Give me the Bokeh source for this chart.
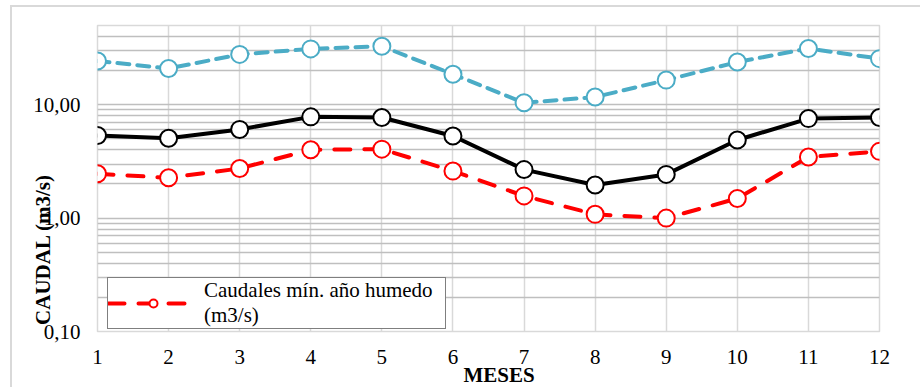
from bokeh.plotting import figure
from bokeh.models import FixedTicker, Legend, LegendItem, Range1d
from bokeh.embed import file_html
from bokeh.resources import INLINE

# Monthly flows (m3/s)
meses = list(range(1, 13))
caudal_max = [24.3, 20.9, 27.8, 31.1, 32.8, 18.6, 10.4, 11.7, 16.5, 23.8, 31.3, 25.5]
caudal_medio = [5.35, 5.06, 6.06, 7.82, 7.71, 5.30, 2.68, 1.96, 2.43, 4.89, 7.55, 7.71]
caudal_min_humedo = [2.46, 2.27, 2.74, 4.01, 4.06, 2.60, 1.57, 1.08, 1.00, 1.49, 3.46, 3.88]

y_ticks = [0.1, 1, 10]
y_tick_labels = ["0,10", "1,00", "10,00"]
y_minor = [0.2, 0.3, 0.4, 0.5, 0.6, 0.7, 0.8, 0.9,
           2, 3, 4, 5, 6, 7, 8, 9,
           20, 30, 40, 50]

SERIF = "Liberation Serif"
FS = "21px"
GRID_H = "#bfbfbf"
GRID_V = "#d9d9d9"

p = figure(
    width=910, height=382,
    x_range=Range1d(1, 12), y_range=Range1d(0.1, 50),
    y_axis_type="log",
    output_backend="svg", toolbar_location=None,
    min_border_left=85, min_border_right=43,
    min_border_top=18, min_border_bottom=52,
    background_fill_color="white", border_fill_color="white",
)
# light chart-area border on the left and top
p.styles = {
    "margin-left": "10px", "margin-top": "5px",
    "border-left": "2px solid #d9d9d9", "border-top": "2px solid #d9d9d9",
}
p.outline_line_color = GRID_V
p.outline_line_width = 1.5

# axes
p.xaxis.ticker = FixedTicker(ticks=meses)
p.yaxis.ticker = FixedTicker(ticks=y_ticks, minor_ticks=y_minor)
p.yaxis.major_label_overrides = {t: l for t, l in zip(y_ticks, y_tick_labels)}
for ax in (p.xaxis[0], p.yaxis[0]):
    ax.axis_line_color = None
    ax.major_tick_line_color = None
    ax.minor_tick_line_color = None
    ax.major_label_text_font = SERIF
    ax.major_label_text_font_size = FS
    ax.major_label_text_color = "#000000"
    ax.axis_label_text_font = SERIF
    ax.axis_label_text_font_style = "bold"
    ax.axis_label_text_font_size = FS
    ax.axis_label_text_color = "#000000"
p.xaxis.major_label_standoff = 12
p.yaxis.major_label_standoff = 11

p.xaxis.axis_label = "\u00a0" * 4 + "MESES"
p.xaxis.axis_label_standoff = -4
p.yaxis.axis_label = "CAUDAL (m3/s)" + "\u00a0" * 27
p.yaxis.axis_label_standoff = -25

# grid
p.xgrid.grid_line_color = GRID_V
p.xgrid.grid_line_width = 1.5
p.ygrid.grid_line_color = GRID_H
p.ygrid.grid_line_width = 1.3
p.ygrid.minor_grid_line_color = GRID_H
p.ygrid.minor_grid_line_width = 1.3

# series
blue = "#4bacc6"
p.line(meses, caudal_max, line_color=blue, line_width=4, line_dash="12 8",
       line_cap="round")
p.scatter(meses, caudal_max, size=17, marker="circle", fill_color="white",
          line_color=blue, line_width=2)

p.line(meses, caudal_medio, line_color="black", line_width=4)
p.scatter(meses, caudal_medio, size=17, marker="circle", fill_color="white",
          line_color="black", line_width=2)

red_line = p.line(meses, caudal_min_humedo, line_color="red", line_width=4,
                  line_dash="16 14", line_cap="round")
red_pts = p.scatter(meses, caudal_min_humedo, size=17, marker="circle",
                    fill_color="white", line_color="red", line_width=2)

legend = Legend(
    items=[LegendItem(label="Caudales mín. año humedo\n(m3/s)",
                      renderers=[red_line, red_pts])],
    location=(10, 2),
    label_text_font=SERIF, label_text_font_size=FS,
    label_text_color="black",
    border_line_color="black", border_line_width=1.5,
    background_fill_color="white", background_fill_alpha=1,
    glyph_width=90, padding=0, margin=0, label_standoff=6, label_width=241,
)
p.add_layout(legend)

open("out.html", "w").write(file_html(p, INLINE))
